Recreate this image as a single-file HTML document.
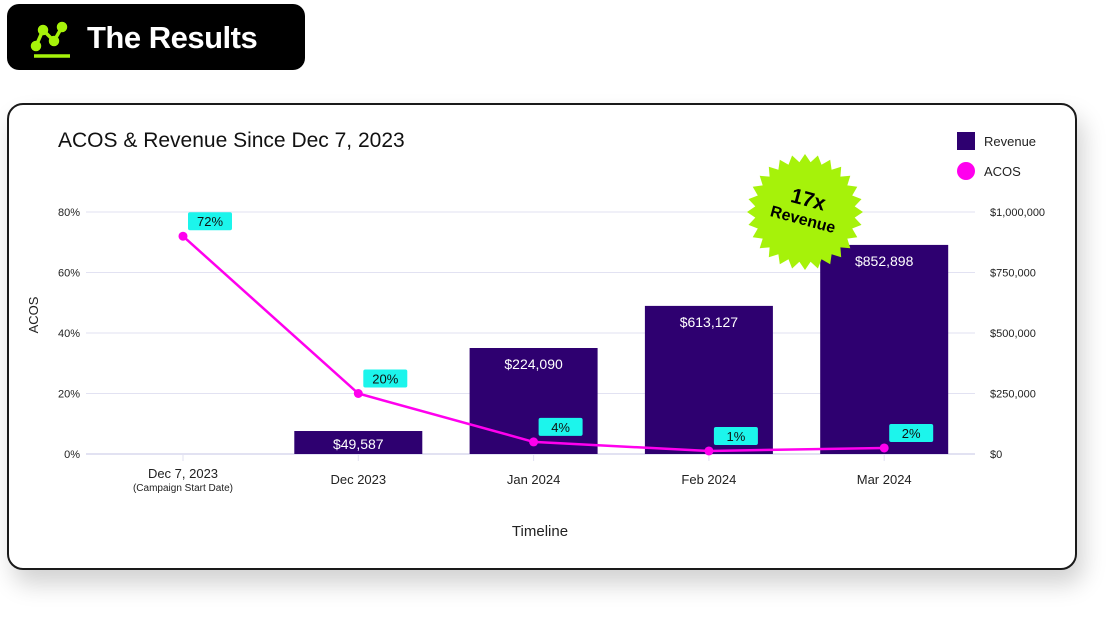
<!DOCTYPE html>
<html><head><meta charset="utf-8"><style>
body{margin:0;width:1120px;height:628px;background:#fff;font-family:"Liberation Sans",sans-serif;overflow:hidden;position:relative}
#badge{position:absolute;left:7px;top:4px;width:298px;height:66px;background:#000;border-radius:12px}
#badge span{position:absolute;left:80px;top:16px;color:#fff;font-size:31px;font-weight:bold;letter-spacing:-0.5px}
#card{position:absolute;left:7px;top:103px;width:1066px;height:463px;border:2px solid #1a1a1a;border-radius:16px;background:#fff;box-shadow:6px 14px 24px rgba(0,0,0,0.18)}
svg{position:absolute;left:0;top:0}
</style></head><body>
<div id="badge">
<svg width="70" height="66"><g stroke="#a6f20a" stroke-width="3.5" fill="#a6f20a"><polyline points="29,42 36,26 47,37 55,23" fill="none"/><circle cx="29" cy="42" r="3.5"/><circle cx="36" cy="26" r="3.5"/><circle cx="47" cy="37" r="3.5"/><circle cx="55" cy="23" r="3.5"/><line x1="27" y1="52" x2="63" y2="52"/></g></svg>
<span>The Results</span></div>
<div id="card"></div>
<svg id="chart" width="1120" height="628"></svg>
<script>
const categories=["Dec 7, 2023","Dec 2023","Jan 2024","Feb 2024","Mar 2024"];
// bar heights as drawn in the picture (right-axis units)
const revenue=[null,95000,438000,612000,864000];
const revenueLabels=["","$49,587","$224,090","$613,127","$852,898"];
const acos=[72,20,4,1,2];
const acosLabels=["72%","20%","4%","1%","2%"];
const leftTicks=[0,20,40,60,80];
const rightTicks=[0,250000,500000,750000,1000000];
const rightTickLabels=["$0","$250,000","$500,000","$750,000","$1,000,000"];

const NS="http://www.w3.org/2000/svg";
const svg=document.getElementById('chart');
function mk(t,a,txt){const e=document.createElementNS(NS,t);for(const k in a)e.setAttribute(k,a[k]);if(txt!=null)e.textContent=txt;svg.appendChild(e);return e;}
const y0=454,yTop=212,xL=86,xR=975;
const yL=v=>y0-(v/80)*(y0-yTop);
const yR=v=>y0-(v/1000000)*(y0-yTop);
const xC=i=>183+i*175.3;
const F='"Liberation Sans",sans-serif';

let t=mk('text',{x:58,y:147,'font-size':21,fill:'#111','font-family':F},'ACOS & Revenue Since Dec 7, 2023');



leftTicks.forEach((v,i)=>{
 let g=mk('line',{x1:xL,x2:xR,y1:yL(v),y2:yL(v),stroke:'#e2e2f2','stroke-width':v===0?2:1});
 
 
 let l=mk('text',{x:80,y:yL(v)+4,'font-size':11,fill:'#222','text-anchor':'end','font-family':F},v+'%');
 
 
});
rightTicks.forEach((v,i)=>{
 let l=mk('text',{x:990,y:yR(v)+4,'font-size':11,fill:'#222','font-family':F},rightTickLabels[i]);
 
 
});
let ya=mk('text',{x:38,y:315,'font-size':13,fill:'#222','text-anchor':'middle','font-family':F,transform:'rotate(-90 38 315)'},'ACOS');


let xa=mk('text',{x:540,y:536,'font-size':15,fill:'#222','text-anchor':'middle','font-family':F},'Timeline');



categories.forEach((c,i)=>{
 let tk=mk('line',{x1:xC(i),x2:xC(i),y1:455,y2:461,stroke:'#e2e2f2','stroke-width':1});
 
 
 let l=mk('text',{x:xC(i),y:i===0?478:484,'font-size':13,fill:'#222','text-anchor':'middle','font-family':F},c);
 
 
 if(revenue[i]!=null){
  const top=yR(revenue[i]);
  let b=mk('rect',{x:xC(i)-64,y:top,width:128,height:y0-top,fill:'#2e0070'});
  
  
  let bl=mk('text',{x:xC(i),y:Math.min(top+21,y0-5),'font-size':14,fill:'#fff','text-anchor':'middle','font-family':F},revenueLabels[i]);
  
  
 }
});
let sub=mk('text',{x:xC(0),y:491,'font-size':10,fill:'#222','text-anchor':'middle','font-family':F},'(Campaign Start Date)');



let line=mk('polyline',{points:acos.map((v,i)=>xC(i)+','+yL(v)).join(' '),fill:'none',stroke:'#ff00ee','stroke-width':2.5});


acos.forEach((v,i)=>{
 const px=xC(i),py=yL(v);
 let p=mk('circle',{cx:px,cy:py,r:4.5,fill:'#ff00ee'});
 
 
 let r=mk('rect',{x:px+5,y:py-24,width:44,height:18,rx:2,fill:'#1cf5ec'});
 
 
 let l=mk('text',{x:px+27,y:py-10,'font-size':13,fill:'#111','text-anchor':'middle','font-family':F},acosLabels[i]);
 
 
});

let lr=mk('rect',{x:957,y:132,width:18,height:18,fill:'#2e0070'});


let lt=mk('text',{x:984,y:146,'font-size':13,fill:'#222','font-family':F},'Revenue');


let lc=mk('circle',{cx:966,cy:171,r:9,fill:'#ff00ee'});


let lt2=mk('text',{x:984,y:176,'font-size':13,fill:'#222','font-family':F},'ACOS');



let pts=[];const cx=805,cy=212,N=28;
for(let k=0;k<N*2;k++){const a=Math.PI*k/N;const r=k%2?50:58;pts.push((cx+r*Math.cos(a)).toFixed(1)+','+(cy+r*Math.sin(a)).toFixed(1));}
let st=mk('polygon',{points:pts.join(' '),fill:'#a6f20a'});


let s1=mk('text',{x:cx,y:cy-6,'font-size':21,'font-weight':'bold',fill:'#000','text-anchor':'middle','font-family':F,transform:`rotate(15 ${cx} ${cy})`},'17x');


let s2=mk('text',{x:cx,y:cy+13,'font-size':16,'font-weight':'bold',fill:'#000','text-anchor':'middle','font-family':F,transform:`rotate(15 ${cx} ${cy})`},'Revenue');


</script>
</body></html>
